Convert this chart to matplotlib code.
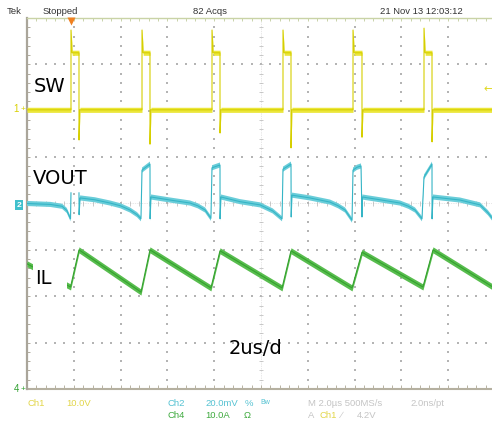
import matplotlib
matplotlib.use("Agg")
import matplotlib.pyplot as plt
from matplotlib.patches import Rectangle
import numpy as np

W, H = 492, 421
nan = np.nan

# scope screen: 10 div x 8 div, 2 us/div -> time in us, levels in divisions from the bottom
sw_rise = [1.88, 4.915, 7.906, 10.94, 13.932, 16.966]
sw_fall = [2.222, 5.256, 8.248, 11.282, 14.316, 17.308]
sw_peak = [7.74, 7.74, 7.74, 7.74, 7.74, 7.78]
sw_dip = [5.37, 5.28, 5.52, 5.20, 5.43, 5.33]
sw_low = 6.02
sw_high = 7.25

vout_t = [0.00, 1.00, 1.50, 1.70, 1.86, 1.88, nan, 2.222, 2.225, 2.27,
          2.90, 3.55, 4.00, 4.40, 4.70, 4.87,
          4.915, 5.256, 5.26, 5.30, 6.11, 6.97, 7.30, 7.61, 7.86,
          7.906, 8.248, 8.25, 8.29, 9.10, 9.96, 10.50, 10.90,
          10.94, 11.282, 11.29, 11.325, 12.09, 12.95, 13.30, 13.59, 13.89,
          13.932, 14.10, 14.274, 14.316, 14.33, 15.09, 15.94, 16.30, 16.58, 16.88,
          16.966, 17.308, 17.31, 17.35, 18.50, 19.36, 19.70, 19.87, 20.00]
vout_v = [4.00, 3.98, 3.94, 3.85, 3.67, 4.23, nan, 4.23, 3.76, 4.12,
          4.08, 4.01, 3.95, 3.86, 3.76, 3.67,
          4.72, 4.85, 3.67, 4.14, 4.075, 4.01, 3.95, 3.86, 3.68,
          4.77, 4.83, 3.67, 4.14, 4.04, 3.97, 3.84, 3.67,
          4.74, 4.85, 3.71, 4.18, 4.12, 4.03, 3.95, 3.86, 3.64,
          4.72, 4.78, 4.81, 3.71, 4.14, 4.08, 4.01, 3.94, 3.86, 3.67,
          4.57, 4.85, 3.67, 4.14, 4.075, 3.97, 3.80, 3.69, 3.64]

il_t = [0.0, 1.86, 2.222, 4.87, 5.256, 7.86, 8.248, 10.90, 11.282, 13.89, 14.316, 16.92, 17.35, 20.0]
il_v = [2.70, 2.20, 3.00, 2.09, 3.00, 2.18, 2.98, 2.18, 2.98, 2.18, 2.95, 2.20, 3.00, 2.17]

# build the switch node trace from the edges
sw_t, sw_v = [0.0], [sw_low]
for r, f, pk, dp in zip(sw_rise, sw_fall, sw_peak, sw_dip):
    sw_t += [r, r, r + 0.05, f, f, f + 0.04]
    sw_v += [sw_low, pk, sw_high, sw_high, dp, sw_low]
sw_t.append(20.0)
sw_v.append(sw_low)


def fpos(x, y):
    return x / W, 1 - y / H


fig = plt.figure(figsize=(W / 100, H / 100), dpi=100)
fig.patch.set_facecolor("white")
ax = fig.add_axes([27 / W, (H - 389) / H, 468 / W, 371 / H])
ax.set_xlim(0, 20)
ax.set_ylim(0, 8)
ax.axis("off")

# graticule dots
gx, gy = [], []
for xm in range(2, 20, 2):
    if xm == 10:
        continue
    for k in range(1, 40):
        gx.append(xm)
        gy.append(k * 0.2)
for ym in range(1, 8):
    if ym == 4:
        continue
    for k in range(1, 50):
        gx.append(k * 0.4)
        gy.append(ym)
ax.scatter(gx, gy, s=0.7, marker="s", c="#b4b4b4", linewidths=0, zorder=1)

# centre cross with ticks
ax.plot([10, 10], [0, 8], color="#d0d0d0", lw=0.5, ls=(0, (1, 1.5)), zorder=1)
ax.plot([0, 20], [4, 4], color="#d0d0d0", lw=0.5, ls=(0, (1, 1.5)), zorder=1)
lev = np.arange(1, 40) * 0.2
tim = np.arange(1, 50) * 0.4
ax.hlines(lev, 9.9, 10.1, color="#b4b4b4", lw=0.5, zorder=1)
ax.vlines(tim, 3.95, 4.05, color="#b4b4b4", lw=0.5, zorder=1)

# border ticks and frame
ax.vlines(tim, 0, 0.08, color="#b8b3a3", lw=0.7, zorder=1)
ax.vlines(tim, 7.93, 8, color="#c9d2aa", lw=0.7, zorder=1)
ax.hlines(lev, 0, 0.12, color="#b0ab9e", lw=0.7, zorder=1)
ax.plot([0, 20], [0, 0], color="#b5b0a0", lw=1.5, clip_on=False, zorder=2)
ax.plot([0, 0], [0, 8], color="#aaa59a", lw=1.6, clip_on=False, zorder=2)
ax.plot([0, 20], [8, 8], color="#c9d3a6", lw=1.0, clip_on=False, zorder=2)


def trace(t, v, halo, line, half):
    t = np.asarray(t, float)
    v = np.asarray(v, float)
    ax.fill_between(t, v - half, v + half, color=halo, lw=0, zorder=3)
    ax.plot(t, v, color=line, lw=0.8, zorder=4)


trace(sw_t, sw_v, "#ebe63a", "#d6cf00", 0.055)
trace(vout_t, vout_v, "#6acdd9", "#35b5c6", 0.055)
trace(il_t, il_v, "#58bd4e", "#35a22f", 0.065)

# white box behind the IL label hides the trace there
ax.add_patch(Rectangle((0.256, 2.07), 1.45, 0.71, fc="white", ec="none", zorder=5))

# markers
ax.plot(1.86, 7.93, marker="v", ms=6, color="#f08020", mec="none", clip_on=False, zorder=6)
ax.text(19.7, 6.47, "\u2190", color="#e0d820", fontsize=8, ha="center", va="center", zorder=6)

big = dict(fontsize=14, family="DejaVu Sans", color="black", va="center", ha="left", zorder=7)
fig.text(*fpos(34, 87), "SW", **big)
fig.text(*fpos(33, 178), "VOUT", **big)
fig.text(*fpos(35, 278), "IL", **big)
fig.text(*fpos(229, 349), "2us/d", **big)

# channel markers
small = dict(family="Liberation Sans", va="center", ha="center")
fig.text(*fpos(16, 109), "1", color="#d8d000", fontsize=7, **small)
fig.text(*fpos(23, 109), "+", color="#d8d000", fontsize=6, **small)
fig.text(*fpos(19, 205), "2", color="white", fontsize=6, fontweight="bold",
         bbox=dict(boxstyle="square,pad=0.15", fc="#40c0cc", ec="none"), **small)
fig.text(*fpos(17, 389), "4", color="#30a030", fontsize=7, **small)
fig.text(*fpos(23, 389), "+", color="#30a030", fontsize=6, **small)

# header
hdr = dict(family="Liberation Sans", fontsize=6.8, color="#333333", va="center", ha="left")
fig.text(*fpos(7, 11), "Tek", **hdr)
fig.text(*fpos(43, 11), "Stopped", **hdr)
fig.text(*fpos(193, 11), "82 Acqs", **hdr)
fig.text(*fpos(380, 11), "21 Nov 13 12:03:12", **hdr)

# footer
yel, cya, grn, gry = "#e2d64a", "#55c2d2", "#3eaa3e", "#c4c4c4"
ft = dict(family="Liberation Sans", fontsize=6.8, va="center", ha="left")
fig.text(*fpos(27, 404), "Ch1", color=yel, **ft)
fig.text(*fpos(66, 404), "10.0V", color=yel, **ft)
fig.text(*fpos(168, 404), "Ch2", color=cya, **ft)
fig.text(*fpos(205, 404), "20.0mV", color=cya, **ft)
fig.text(*fpos(245, 404), "%", color=cya, **ft)
fig.text(*fpos(260, 402), "Bw", color=cya, family="Liberation Sans", fontsize=5, va="center", ha="left")
fig.text(*fpos(308, 404), "M 2.0\u00b5s 500MS/s", color=gry, **ft)
fig.text(*fpos(410, 404), "2.0ns/pt", color=gry, **ft)
fig.text(*fpos(168, 415), "Ch4", color=grn, **ft)
fig.text(*fpos(205, 415), "10.0A", color=grn, **ft)
fig.text(*fpos(244, 415), "\u03a9", color=grn, **ft)
fig.text(*fpos(308, 415), "A", color=gry, **ft)
fig.text(*fpos(320, 415), "Ch1", color=yel, **ft)
fig.text(*fpos(341, 415), "\u2215", color=gry, **ft)
fig.text(*fpos(357, 415), "4.2V", color=gry, **ft)

fig.savefig("out.png", dpi=100, facecolor="white")
